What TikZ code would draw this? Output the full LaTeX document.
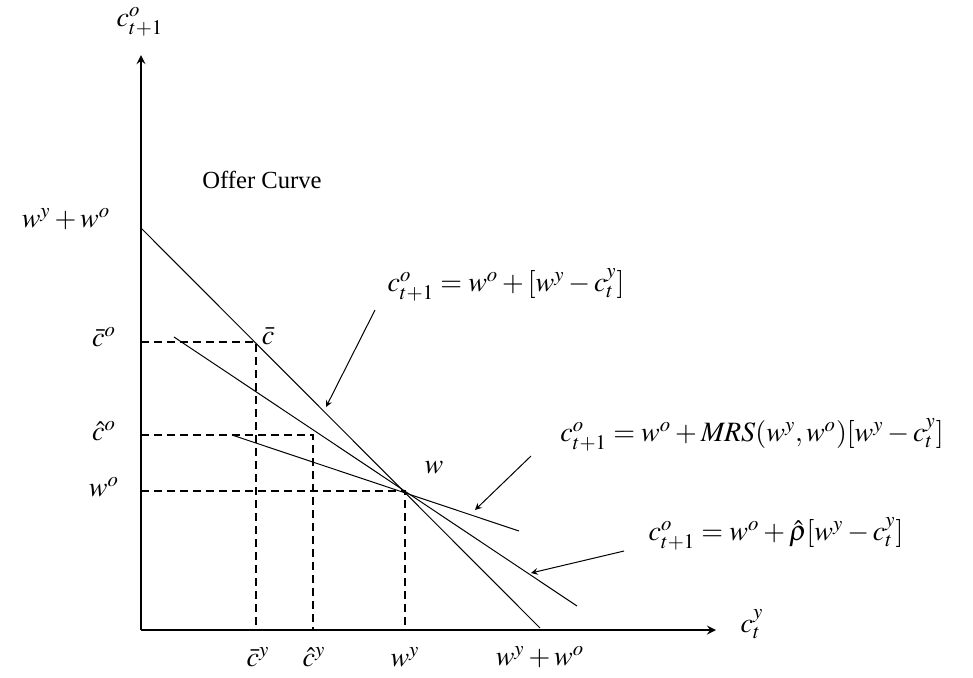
\documentclass[tikz,border=0pt]{standalone}
\usepackage{mathptmx}
\usepackage{fontspec}
\setmainfont{Liberation Serif}
\usepackage{tikz}
\usetikzlibrary{positioning,calc,arrows}

\tikzset{
  >=stealth,
  every node/.style={font=\fontsize{14}{17}\selectfont},
  % --- lines
  axis/.style  = {-stealth, line width=1pt},
  budget/.style= {line width=0.5pt},
  guide/.style = {line width=0.9pt, dash pattern=on 4pt off 2.5pt},
  ann/.style   = {-stealth, line width=0.5pt},
}

\begin{document}
\begin{tikzpicture}[x=0.5pt,y=-0.5pt]
  \useasboundingbox (0,0) rectangle (973,677);
  % axes
  \coordinate (O) at (141,630);
  \coordinate (ytop) at (141,55);
  \coordinate (xend) at (716,630);
  \draw[axis] (O) -- (ytop);
  \draw[axis] (O) -- (xend);
  \node (ylab) at (140,22) {$c^o_{t+1}$};
  \node (xlab) at (752,624) {$c^y_t$};

  % three lines through the endowment point
  \coordinate (w) at (405,491);
  \coordinate (bA) at (141,228); \coordinate (bB) at (540,628);
  \coordinate (rA) at (174,337); \coordinate (rB) at (577,606);
  \coordinate (mA) at (232,435); \coordinate (mB) at (519,531);
  \draw[budget] (bA) -- (bB);
  \draw[budget] (rA) -- (rB);
  \draw[budget] (mA) -- (mB);

  % dashed guides
  \coordinate (cbarpt) at (256,342);
  \coordinate (chatpt) at (313,435);
  \draw[guide] (O |- cbarpt) -- (cbarpt) -- (cbarpt |- O);
  \draw[guide] (O |- chatpt) -- (chatpt) -- (chatpt |- O);
  \draw[guide] (O |- w) -- (w) -- (w |- O);

  % axis labels
  \node (wsum)  at (66,219)  {$w^y+w^o$};
  \node (cbaro) at (104,337) {$\bar{c}^o$};
  \node (chato) at (104,431) {$\hat{c}^o$};
  \node (wo)    at (104,487) {$w^o$};
  \node (cbary) at (258,657) {$\bar{c}^y$};
  \node (chaty) at (314,657) {$\hat{c}^y$};
  \node (wy)    at (405,657) {$w^y$};
  \node (wsumx) at (540,657) {$w^y+w^o$};

  \node[font=\fontsize{12.3}{15}\selectfont] (offer) at (262,180) {Offer Curve};
  \node (cbar)  at (268,336) {$\bar{c}$};
  \node (wlab)  at (434,468) {$w$};

  % equations and their arrows
  \node (eqB) at (506,285) {$c^o_{t+1}=w^o+[w^y-c^y_t]$};
  \node (eqM) at (752,435) {$c^o_{t+1}=w^o+\mathit{MRS}(w^y,w^o)[w^y-c^y_t]$};
  \node (eqR) at (776,534) {$c^o_{t+1}=w^o+\hat{\rho}[w^y-c^y_t]$};
  \coordinate (tB) at (375,310); \coordinate (hB) at (326,407);
  \coordinate (tM) at (531,456); \coordinate (hM) at (475,510);
  \coordinate (tR) at (624,551); \coordinate (hR) at (531,573);
  \draw[ann] (tB) -- (hB);
  \draw[ann] (tM) -- (hM);
  \draw[ann] (tR) -- (hR);
\end{tikzpicture}
\end{document}
